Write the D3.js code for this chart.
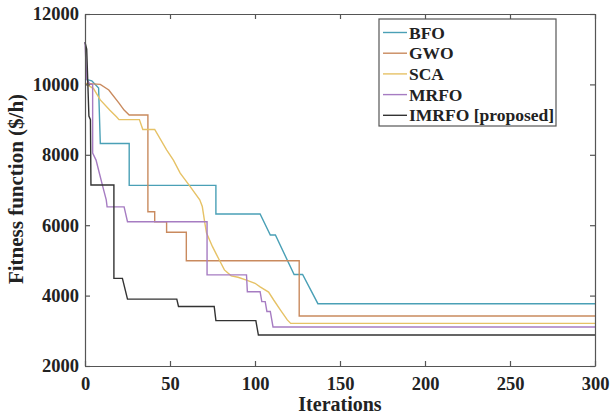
<!DOCTYPE html>
<html>
<head>
<meta charset="utf-8">
<script src="https://cdn.jsdelivr.net/npm/d3@7"></script>
<style>
  body { margin: 0; background: #fff; }
  svg { display: block; }
  text { font-family: "Liberation Serif", "Times New Roman", serif; font-weight: bold; fill: #222; }
</style>
</head>
<body>
<div id="chart"></div>
<script>
// convergence curves (iteration, fitness)
var bfoIter  = [0, 4, 8, 9, 26, 26, 77, 77, 103, 109, 112, 123, 128, 137, 300];
var bfoCost  = [10150, 10100, 9900, 8320, 8320, 7130, 7130, 6320, 6320, 5720, 5720, 4600, 4600, 3770, 3770];

var gwoIter  = [0, 9, 14, 20, 23, 26, 37, 37, 41, 41, 48, 48, 59.6, 59.6, 126, 126, 300];
var gwoCost  = [10030, 10000, 9840, 9470, 9270, 9130, 9130, 6380, 6380, 6100, 6100, 5800, 5800, 4990, 4990, 3420, 3420];

var scaIter  = [0, 5, 9, 14.5, 18.5, 20, 32, 34, 41, 48, 52, 56, 62, 67.5, 69, 70.5, 71.5, 75, 79, 82, 86, 90, 95, 100, 103, 108, 111, 115, 119, 121, 300];
var scaCost  = [10030, 9880, 9560, 9270, 9080, 9000, 9000, 8720, 8720, 8140, 7850, 7480, 7090, 6720, 6530, 6060, 5780, 5390, 5010, 4730, 4560, 4520, 4440, 4350, 4250, 4100, 3875, 3590, 3310, 3210, 3210];

var mrfoIter = [0, 1, 3, 4.5, 4.5, 6.5, 8.5, 10.5, 12.5, 13, 23, 25, 71.8, 71.8, 95, 95.5, 103, 104, 106, 107, 109, 110.6, 300];
var mrfoCost = [11200, 10150, 10000, 10000, 8050, 7850, 7470, 7090, 6720, 6520, 6520, 6100, 6100, 4590, 4590, 4110, 4110, 3830, 3830, 3550, 3550, 3110, 3110];

var imrfoIter = [0, 1, 2.3, 3.2, 3.5, 17, 17, 22, 25, 54, 55, 76, 77, 100.5, 102, 300];
var imrfoCost = [11200, 11000, 9100, 9000, 7140, 7140, 4490, 4490, 3900, 3900, 3690, 3690, 3290, 3290, 2880, 2880];

var seriesNames = ["BFO", "GWO", "SCA", "MRFO", "IMRFO [proposed]"];
var seriesColors = ["#4aa0b6", "#c98a5e", "#e6c266", "#a67cc2", "#333333"];

var xTicks = [0, 50, 100, 150, 200, 250, 300];
var yTicks = [2000, 4000, 6000, 8000, 10000, 12000];

var W = 610, H = 417;
var margin = {top: 14, right: 15, bottom: 51, left: 85};
var w = W - margin.left - margin.right;
var h = H - margin.top - margin.bottom;

var svg = d3.select("#chart")
    .append("svg")
    .attr("width", W)
    .attr("height", H);

var g = svg.append("g")
    .attr("transform", "translate(" + margin.left + "," + margin.top + ")");

var x = d3.scaleLinear().domain([0, 300]).range([0, w]);
var y = d3.scaleLinear().domain([2000, 12000]).range([h, 0]);

var zip = function(xs, ys) {
    return xs.map(function(d, i) { return [d, ys[i]]; });
};
var series = [
    zip(bfoIter, bfoCost),
    zip(gwoIter, gwoCost),
    zip(scaIter, scaCost),
    zip(mrfoIter, mrfoCost),
    zip(imrfoIter, imrfoCost)
];

var line = d3.line()
    .x(function(d) { return x(d[0]); })
    .y(function(d) { return y(d[1]); });

g.selectAll("path.curve")
    .data(series)
    .enter()
    .append("path")
    .attr("class", "curve")
    .attr("d", line)
    .attr("fill", "none")
    .attr("stroke", function(d, i) { return seriesColors[i]; })
    .attr("stroke-width", 1.4);

// axes: MATLAB style box with inward ticks
var fmt = d3.format("d");
var styleAxis = function(sel) {
    sel.select(".domain").attr("stroke", "#555").attr("stroke-width", 1.2);
    sel.selectAll(".tick line").attr("stroke", "#555").attr("stroke-width", 1.2);
    sel.selectAll("text")
        .attr("font-family", "Liberation Serif")
        .attr("font-weight", "bold")
        .attr("font-size", "18.5px")
        .attr("fill", "#222");
};

g.append("g")
    .attr("transform", "translate(0," + h + ")")
    .call(d3.axisBottom(x).tickValues(xTicks).tickFormat(fmt).tickSizeInner(-5).tickSizeOuter(0).tickPadding(11))
    .call(styleAxis);

g.append("g")
    .call(d3.axisLeft(y).tickValues(yTicks).tickFormat(fmt).tickSizeInner(-5).tickSizeOuter(0).tickPadding(6))
    .call(styleAxis);

g.append("g")
    .call(d3.axisTop(x).tickValues(xTicks).tickFormat("").tickSizeInner(-5).tickSizeOuter(0))
    .call(styleAxis);

g.append("g")
    .attr("transform", "translate(" + w + ",0)")
    .call(d3.axisRight(y).tickValues(yTicks).tickFormat("").tickSizeInner(-5).tickSizeOuter(0))
    .call(styleAxis);

// axis titles
svg.append("text")
    .attr("x", margin.left + w / 2)
    .attr("y", 411)
    .attr("text-anchor", "middle")
    .attr("font-size", "20px")
    .text("Iterations");

svg.append("text")
    .attr("transform", "translate(23," + (margin.top + h / 2 - 1) + ") rotate(-90)")
    .attr("text-anchor", "middle")
    .attr("font-size", "21px")
    .text("Fitness function ($/h)");

// legend
var legend = svg.append("g").attr("transform", "translate(379,19)");

legend.append("rect")
    .attr("width", 177)
    .attr("height", 107)
    .attr("fill", "#fff")
    .attr("stroke", "#555")
    .attr("stroke-width", 1.2);

var rows = legend.selectAll("g.row")
    .data(seriesNames)
    .enter()
    .append("g")
    .attr("class", "row")
    .attr("transform", function(d, i) { return "translate(0," + (13.5 + i * 20.7) + ")"; });

rows.append("line")
    .attr("x1", 4)
    .attr("x2", 28)
    .attr("stroke", function(d, i) { return seriesColors[i]; })
    .attr("stroke-width", 1.4);

rows.append("text")
    .attr("x", 30)
    .attr("dy", "0.35em")
    .attr("font-size", "17.5px")
    .text(function(d) { return d; });
</script>
</body>
</html>
